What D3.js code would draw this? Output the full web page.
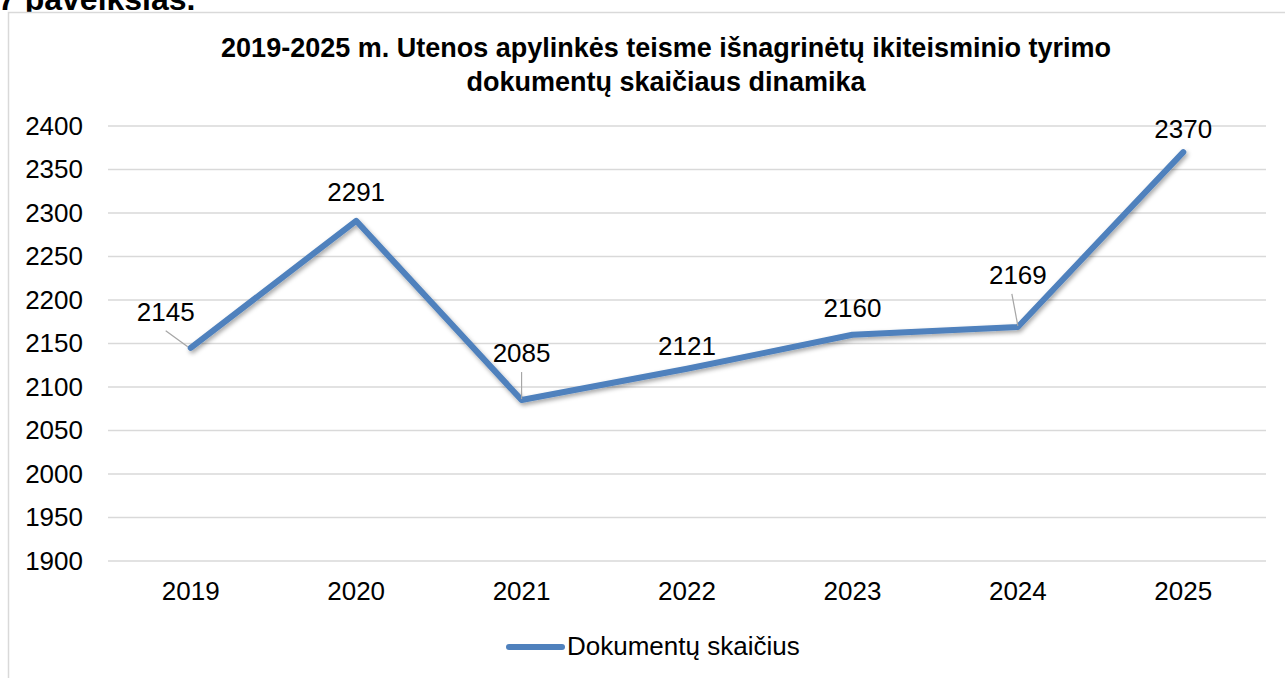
<!DOCTYPE html>
<html>
<head>
<meta charset="utf-8">
<script src="https://cdn.jsdelivr.net/npm/d3@7"></script>
<style>
  body { margin: 0; background: #fff; }
  svg { display: block; font-family: "Liberation Sans", Arial, sans-serif; }
</style>
</head>
<body>
<div id="chart"></div>
<script>
var years = ["2019", "2020", "2021", "2022", "2023", "2024", "2025"];
var counts = [2145, 2291, 2085, 2121, 2160, 2169, 2370];
var yTicks = [1900, 1950, 2000, 2050, 2100, 2150, 2200, 2250, 2300, 2350, 2400];
// label offsets (text baseline) relative to the point: [dx, dy, leader?]
var labelPos = [[-25, -27, true], [0, -20, false], [0, -38, true], [0, -14, false],
                [0, -18, false], [0, -43, true], [0, -14, false]];

var width = 1285, height = 678,
    plot = {left: 108, right: 1266, top: 126, bottom: 561},
    lineColor = "#4f81bd",
    fontSize = '26px';

var svg = d3.select('#chart')
  .append('svg')
    .attr('width', width)
    .attr('height', height);

var defs = svg.append('defs');
defs.append('filter')
    .attr('id', 'shadow')
    .attr('x', '-5%').attr('y', '-5%').attr('width', '110%').attr('height', '120%')
  .append('feDropShadow')
    .attr('dx', 1.5).attr('dy', 2.5)
    .attr('stdDeviation', 2)
    .attr('flood-color', '#000')
    .attr('flood-opacity', 0.35);

// figure caption, cut at the top
svg.append('text')
  .attr('x', -2).attr('y', 10)
  .style('font-size', '32px').style('font-weight', 'bold')
  .text('7 paveikslas.');

// chart frame
svg.append('rect')
  .attr('x', 8.5).attr('y', 12.5)
  .attr('width', 1290).attr('height', 700)
  .attr('fill', '#fff')
  .attr('stroke', '#d9d9d9')
  .attr('stroke-width', 1.5);

svg.append('text')
  .attr('x', 666).attr('y', 57)
  .attr('text-anchor', 'middle')
  .style('font-size', '27px').style('font-weight', 'bold')
  .text('2019-2025 m. Utenos apylinkės teisme išnagrinėtų ikiteisminio tyrimo');
svg.append('text')
  .attr('x', 666).attr('y', 91)
  .attr('text-anchor', 'middle')
  .style('font-size', '27px').style('font-weight', 'bold')
  .text('dokumentų skaičiaus dinamika');

var x = d3.scaleBand()
  .domain(years)
  .range([plot.left, plot.right]);

var y = d3.scaleLinear()
  .domain([1900, 2400])
  .range([plot.bottom, plot.top]);

// grid
svg.append('g')
  .selectAll('line')
  .data(yTicks)
  .enter().append('line')
    .attr('x1', plot.left).attr('x2', plot.right)
    .attr('y1', function (d) { return y(d); })
    .attr('y2', function (d) { return y(d); })
    .attr('stroke', '#d9d9d9')
    .attr('stroke-width', 1.5);

var yAxis = svg.append('g')
  .attr('transform', 'translate(83,0)')
  .call(d3.axisLeft(y).tickValues(yTicks).tickFormat(d3.format('d'))
    .tickSize(0).tickPadding(0));
yAxis.select('.domain').remove();
yAxis.selectAll('text')
  .style('font-size', fontSize)
  .style('font-family', '"Liberation Sans", Arial, sans-serif')
  .attr('fill', '#000');

var xAxis = svg.append('g')
  .attr('transform', 'translate(0,' + (plot.bottom + 21) + ')')
  .call(d3.axisBottom(x).tickSize(0).tickPadding(0));
xAxis.select('.domain').remove();
xAxis.selectAll('text')
  .attr('dy', '0.71em')
  .style('font-size', fontSize)
  .style('font-family', '"Liberation Sans", Arial, sans-serif')
  .attr('fill', '#000');

var cx = function (i) { return x(years[i]) + x.bandwidth() / 2; };

var line = d3.line()
  .x(function (d, i) { return cx(i); })
  .y(function (d) { return y(d); });

svg.append('path')
  .datum(counts)
  .attr('d', line)
  .attr('fill', 'none')
  .attr('stroke', lineColor)
  .attr('stroke-width', 6)
  .attr('stroke-linecap', 'round')
  .attr('stroke-linejoin', 'round')
  .attr('filter', 'url(#shadow)');

// data labels
var labels = svg.append('g');
counts.forEach(function (v, i) {
  var px = cx(i), py = y(v), p = labelPos[i];
  var lx = px + p[0], ly = py + p[1];
  if (p[2]) {
    labels.append('line')
      .attr('x1', i === 5 ? lx - 6 : lx).attr('y1', ly + 10)
      .attr('x2', i === 0 ? px - 3 : px).attr('y2', py - 1)
      .attr('stroke', '#a6a6a6')
      .attr('stroke-width', 1.2);
  }
  labels.append('text')
    .attr('x', lx).attr('y', ly)
    .attr('text-anchor', 'middle')
    .style('font-size', fontSize)
    .text(v);
});

// legend
var lg = svg.append('g').attr('transform', 'translate(509,647)');
lg.append('line')
  .attr('x1', 0).attr('x2', 53)
  .attr('stroke', lineColor)
  .attr('stroke-width', 6)
  .attr('stroke-linecap', 'round');
lg.append('text')
  .attr('x', 58).attr('y', 8)
  .style('font-size', fontSize)
  .text('Dokumentų skaičius');
</script>
</body>
</html>
